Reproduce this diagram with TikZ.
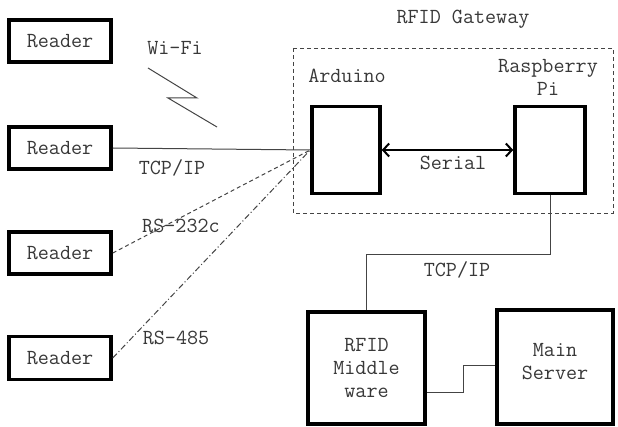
\documentclass[tikz,border=0pt]{standalone}
\usepackage{fontspec}
\usetikzlibrary{arrows.meta}
\definecolor{txt}{HTML}{383838}
\definecolor{ln}{HTML}{444444}
\begin{document}
\begin{tikzpicture}[x=1pt,y=-1pt,
  every node/.style={font=\ttfamily\fontsize{21.5}{23}\selectfont, text=txt, inner sep=0pt},
  thickbox/.style={draw=black, line width=3.5pt, fill=white},
  lbl/.style={align=center},
  wire/.style={draw=ln, line width=1pt}]
\useasboundingbox (0,0) rectangle (618,427);
% gateway
\draw[ln, line width=0.9pt, dash pattern=on 4pt off 3pt] (293,48) rectangle (613,213);
\node[lbl] (gwl) at (463,19) {RFID Gateway};
% readers
\node[thickbox, minimum width=102pt, minimum height=42pt] (r1) at (60,41) {Reader};
\node[thickbox, minimum width=102pt, minimum height=42pt] (r2) at (60,148) {Reader};
\node[thickbox, minimum width=102pt, minimum height=42pt] (r3) at (60,253) {Reader};
\node[thickbox, minimum width=102pt, minimum height=43pt] (r4) at (60,358) {Reader};
% gateway boxes
\node[thickbox, minimum width=68pt, minimum height=87pt] (ard) at (346,150) {};
\node[thickbox, minimum width=70pt, minimum height=87pt] (pi) at (550,150) {};
\node[lbl] (ardl) at (347,76) {Arduino};
\node[lbl] (pil) at (548,77) {Raspberry\\Pi};
% bottom boxes
\node[thickbox, minimum width=117pt, minimum height=112pt, align=center] (mw) at (366.5,368) {RFID\\Middle\\ware};
\node[thickbox, minimum width=116pt, minimum height=114pt] (srv) at (555,367) {};
\node[lbl] (srvl) at (555,362) {Main\\Server};
% labels
\node[lbl] (wifi) at (175,48) {Wi-Fi};
\node[lbl] (tcp1) at (172,168) {TCP/IP};
\node[lbl] (rs232) at (181,226) {RS-232c};
\node[lbl] (rs485) at (176,338) {RS-485};
\node[lbl] (ser) at (453,163) {Serial};
\node[lbl] (tcp2) at (457,270) {TCP/IP};
% lightning
\draw[ln, line width=1pt] (148,68) -- (197,98) -- (168,98) -- (217,127);
% connectors
\draw[wire] (r2.east) -- (ard.west);
\draw[wire, dash pattern=on 4pt off 3pt] (r3.east) -- (ard.west);
\draw[wire, dash pattern=on 6pt off 2.5pt on 1pt off 2.5pt] (r4.east) -- (ard.west);
\draw[black, line width=2pt, {Straight Barb[length=6pt,width=13pt]}-{Straight Barb[length=6pt,width=13pt]}] (ard.east) -- (pi.west);
\draw[wire] (pi.south) -- ++(0,59) -| (mw.north);
\draw[wire] ([yshift=-24pt]mw.east) -- ++(37,0) |- ([yshift=2pt]srv.west);
\end{tikzpicture}
\end{document}
